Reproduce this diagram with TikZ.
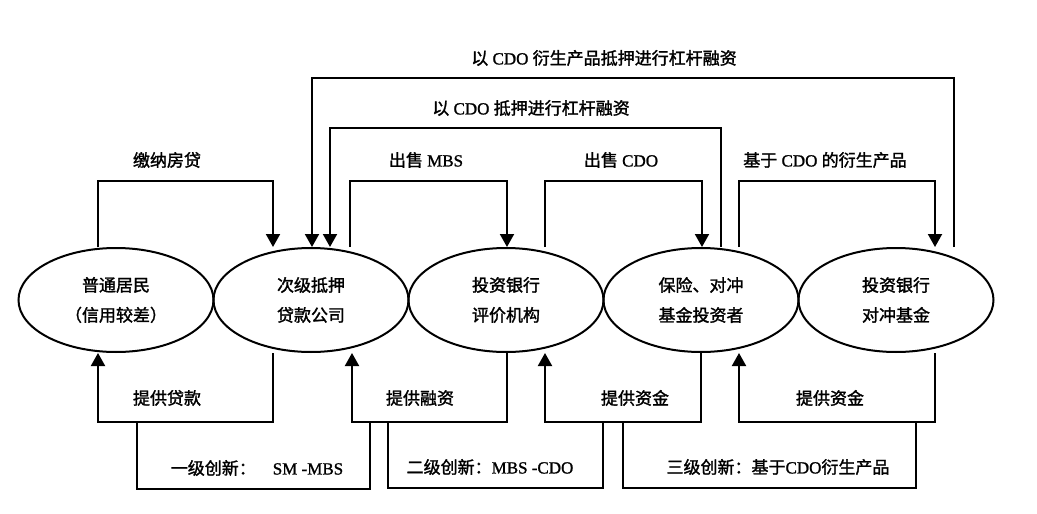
\documentclass[tikz,border=0pt]{standalone}
\usepackage{fontspec}
\setmainfont[FakeBold=1.2]{Liberation Serif}
\newfontfamily\cjk[FakeBold=1.6]{Noto Sans CJK SC}
\newcommand\zh[1]{{\cjk #1}}
\usetikzlibrary{arrows.meta,shapes.geometric}
\begin{document}
\begin{tikzpicture}[x=1pt,y=-1pt,
  ell/.style={ellipse,draw,line width=2pt,minimum width=195pt,minimum height=104pt,inner sep=0pt,align=center,font=\fontsize{17}{30}\selectfont},
  lab/.style={inner sep=0pt,font=\fontsize{17}{20}\selectfont},
  ln/.style={line width=2pt},
  arr/.style={ln,-{Triangle[length=13pt,width=14pt]}},
]
\useasboundingbox (0,0) rectangle (1037,514);
\fill[white] (0,0) rectangle (1037,514);

% entities
\node[ell] (e1) at (116,300) {\zh{普通居民}\\\zh{（信用较差）}};
\node[ell] (e2) at (311,300) {\zh{次级抵押}\\\zh{贷款公司}};
\node[ell] (e3) at (506,300) {\zh{投资银行}\\\zh{评价机构}};
\node[ell] (e4) at (701,300) {\zh{保险、对冲}\\\zh{基金投资者}};
\node[ell] (e5) at (896,300) {\zh{投资银行}\\\zh{对冲基金}};

% top flows
\draw[arr] ([xshift=-18pt]e1.north) -- ++(0,-66) -| ([xshift=-38pt]e2.north);
\draw[arr] ([xshift=39pt]e2.north) -- ++(0,-66) -| ([xshift=1pt]e3.north);
\draw[arr] ([xshift=39pt]e3.north) -- ++(0,-66) -| ([xshift=1pt]e4.north);
\draw[arr] ([xshift=38pt]e4.north) -- ++(0,-66) -| ([xshift=39pt]e5.north);
\draw[arr] ([xshift=20pt]e4.north) -- ++(0,-119) -| ([xshift=19pt]e2.north);
\draw[arr] ([xshift=58pt]e5.north) -- ++(0,-169) -| ([xshift=1pt]e2.north);

% bottom flows
\draw[arr] ([xshift=-38pt]e2.south) -- ++(0,69) -| ([xshift=-18pt]e1.south);
\draw[arr] ([xshift=1pt]e3.south) -- ++(0,69) -| ([xshift=41pt]e2.south);
\draw[arr] (e4.south) -- ++(0,69) -| ([xshift=39pt]e3.south);
\draw[arr] ([xshift=39pt]e5.south) -- ++(0,69) -| ([xshift=38pt]e4.south);

% innovation brackets
\coordinate (u1a) at (137,421); \coordinate (u1b) at (370,421);
\coordinate (u2a) at (388,421); \coordinate (u2b) at (603,421);
\coordinate (u3a) at (623,421); \coordinate (u3b) at (916,421);
\draw[ln] (u1a) -- ++(0,68) -| (u1b);
\draw[ln] (u2a) -- ++(0,67) -| (u2b);
\draw[ln] (u3a) -- ++(0,67) -| (u3b);

% labels
\node[lab] (l1) at (167,160) {\zh{缴纳房贷}};
\node[lab] (l2) at (426,160) {\zh{出售}~MBS};
\node[lab] (l3) at (621,160) {\zh{出售}~CDO};
\node[lab] (l4) at (825,160) {\zh{基于}~CDO~\zh{的衍生产品}};
\node[lab] (l5) at (531,108) {\zh{以}~CDO~\zh{抵押进行杠杆融资}};
\node[lab] (l6) at (604,58) {\zh{以}~CDO~\zh{衍生产品抵押进行杠杆融资}};
\node[lab] (l7) at (167,398) {\zh{提供贷款}};
\node[lab] (l8) at (420,398) {\zh{提供融资}};
\node[lab] (l9) at (635,398) {\zh{提供资金}};
\node[lab] (l10) at (830,398) {\zh{提供资金}};
\node[lab] (l11) at (257,468) {\zh{一级创新：}\quad SM -MBS};
\node[lab] (l12) at (490,467) {\zh{二级创新：}MBS -CDO};
\node[lab] (l13) at (778,467) {\zh{三级创新：基于}CDO\zh{衍生产品}};
\end{tikzpicture}
\end{document}
